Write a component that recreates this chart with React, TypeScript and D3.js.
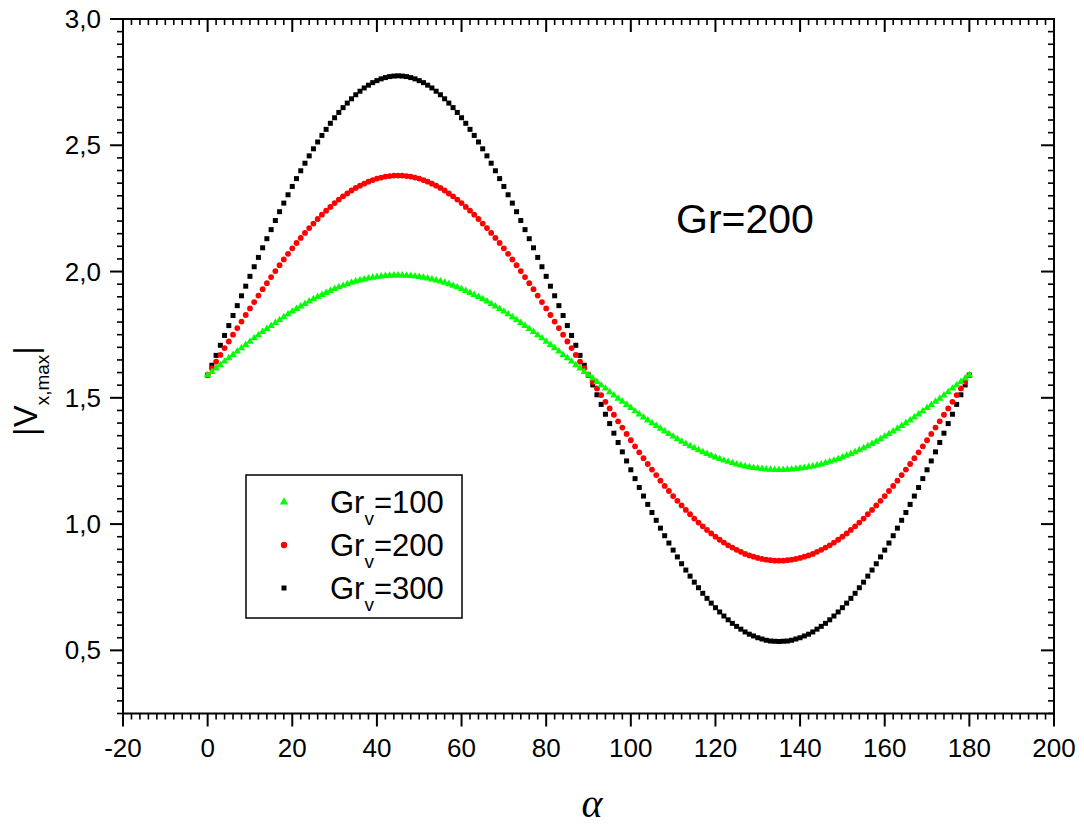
import React from 'react';
import * as d3 from 'd3';

const alpha: number[] = d3.range(0, 181, 1);

const grv100: number[] = [
1.590,1.603,1.617,1.630,1.644,1.657,1.670,1.684,1.697,1.710,
1.723,1.736,1.748,1.761,1.773,1.785,1.797,1.808,1.820,1.831,
1.842,1.852,1.862,1.872,1.882,1.891,1.900,1.908,1.916,1.924,
1.931,1.938,1.944,1.950,1.956,1.961,1.965,1.969,1.973,1.976,
1.979,1.981,1.983,1.984,1.985,1.985,
1.985,1.984,1.983,1.981,1.979,1.976,1.973,1.969,1.965,1.961,
1.956,1.950,1.944,1.938,1.931,1.924,1.916,1.908,1.900,1.891,
1.882,1.872,1.862,1.852,1.842,1.831,1.820,1.808,1.797,1.785,
1.773,1.761,1.748,1.736,1.723,1.710,1.697,1.684,1.670,1.657,
1.644,1.630,1.617,1.603,1.590,
1.577,1.563,1.550,1.537,1.523,1.510,1.497,1.485,1.472,1.460,
1.447,1.435,1.423,1.411,1.400,1.389,1.378,1.367,1.357,1.347,
1.337,1.327,1.318,1.309,1.301,1.293,1.285,1.278,1.271,1.264,
1.258,1.252,1.247,1.242,1.237,1.233,1.229,1.226,1.223,1.221,
1.219,1.217,1.216,1.215,1.215,
1.215,1.216,1.217,1.219,1.221,1.223,1.226,1.229,1.233,1.237,
1.242,1.247,1.252,1.258,1.264,1.271,1.278,1.285,1.293,1.301,
1.309,1.318,1.327,1.337,1.347,1.357,1.367,1.378,1.389,1.400,
1.411,1.423,1.435,1.447,1.460,1.472,1.485,1.497,1.510,1.523,
1.537,1.550,1.563,1.577,1.590
];

const grv200: number[] = [
1.590,1.617,1.643,1.670,1.697,1.723,1.750,1.776,1.802,1.828,
1.854,1.879,1.905,1.930,1.954,1.978,2.002,2.025,2.048,2.070,
2.092,2.113,2.133,2.153,2.172,2.190,2.208,2.225,2.241,2.256,
2.271,2.285,2.298,2.309,2.321,2.331,2.340,2.348,2.356,2.362,
2.368,2.372,2.376,2.378,2.380,2.380,
2.380,2.378,2.376,2.372,2.368,2.362,2.356,2.348,2.340,2.331,
2.321,2.309,2.298,2.285,2.271,2.256,2.241,2.225,2.208,2.190,
2.172,2.153,2.133,2.113,2.092,2.070,2.048,2.025,2.002,1.978,
1.954,1.930,1.905,1.879,1.854,1.828,1.802,1.776,1.750,1.723,
1.697,1.670,1.643,1.617,1.590,
1.563,1.537,1.511,1.484,1.458,1.433,1.407,1.382,1.357,1.332,
1.308,1.284,1.261,1.238,1.216,1.194,1.172,1.151,1.131,1.111,
1.092,1.074,1.056,1.039,1.022,1.006,0.991,0.977,0.963,0.950,
0.938,0.927,0.916,0.907,0.898,0.890,0.882,0.876,0.871,0.866,
0.862,0.859,0.857,0.855,0.855,
0.855,0.857,0.859,0.862,0.866,0.871,0.876,0.882,0.890,0.898,
0.907,0.916,0.927,0.938,0.950,0.963,0.977,0.991,1.006,1.022,
1.039,1.056,1.074,1.092,1.111,1.131,1.151,1.172,1.194,1.216,
1.238,1.261,1.284,1.308,1.332,1.357,1.382,1.407,1.433,1.458,
1.484,1.511,1.537,1.563,1.590
];

const grv300: number[] = [
1.590,1.629,1.668,1.708,1.747,1.786,1.826,1.865,1.904,1.942,
1.981,2.019,2.056,2.094,2.130,2.166,2.202,2.237,2.271,2.304,
2.337,2.368,2.399,2.429,2.458,2.486,2.513,2.539,2.563,2.587,
2.609,2.630,2.649,2.667,2.684,2.700,2.714,2.727,2.738,2.748,
2.756,2.763,2.768,2.772,2.774,2.775,
2.774,2.772,2.768,2.763,2.756,2.748,2.738,2.727,2.714,2.700,
2.684,2.667,2.649,2.630,2.609,2.587,2.563,2.539,2.513,2.486,
2.458,2.429,2.399,2.368,2.337,2.304,2.271,2.237,2.202,2.166,
2.130,2.094,2.056,2.019,1.981,1.942,1.904,1.865,1.826,1.786,
1.747,1.708,1.668,1.629,1.590,
1.551,1.512,1.474,1.435,1.398,1.360,1.323,1.286,1.250,1.215,
1.180,1.145,1.111,1.078,1.046,1.015,0.984,0.954,0.925,0.897,
0.870,0.843,0.818,0.794,0.770,0.748,0.726,0.706,0.687,0.669,
0.652,0.636,0.621,0.607,0.595,0.584,0.573,0.564,0.557,0.550,
0.545,0.540,0.537,0.536,0.535,
0.536,0.537,0.540,0.545,0.550,0.557,0.564,0.573,0.584,0.595,
0.607,0.621,0.636,0.652,0.669,0.687,0.706,0.726,0.748,0.770,
0.794,0.818,0.843,0.870,0.897,0.925,0.954,0.984,1.015,1.046,
1.078,1.111,1.145,1.180,1.215,1.250,1.286,1.323,1.360,1.398,
1.435,1.474,1.512,1.551,1.590
];

const seriesLabels: string[] = ['100', '200', '300'];
const annotation = 'Gr=200';

const W = 1084, H = 828;
const L = 123, R = 1054, T = 19, B = 713.5;
const FONT = '"Liberation Sans", Arial, sans-serif';

export default function App() {
  const x = d3.scaleLinear().domain([-20, 200]).range([L, R]);
  const y = d3.scaleLinear().domain([0.25, 3.0]).range([B, T]);

  const xMajor = x.ticks(11);
  const xMinor = x.ticks(110).filter(v => !xMajor.some(m => Math.abs(m - v) < 1e-9));
  const yMajor = y.ticks(6);
  const yMinor = y.ticks(55).filter(v => !yMajor.some(m => Math.abs(m - v) < 1e-9));
  const fmtY = (v: number) => d3.format('.1f')(v).replace('.', ',');

  const sq = d3.symbol().type(d3.symbolSquare).size(25)() as string;
  const tri = d3.symbol().type(d3.symbolTriangle).size(24)() as string;
  const triLeg = d3.symbol().type(d3.symbolTriangle).size(30)() as string;

  const MJ = 13, MN = 6;
  const sw = 2;

  const legendRows = [
    { label: seriesLabels[0], kind: 'tri', color: '#00ff00' },
    { label: seriesLabels[1], kind: 'circ', color: '#ff0000' },
    { label: seriesLabels[2], kind: 'sq', color: '#000000' },
  ];

  return (
    <svg width={W} height={H} style={{ position: 'absolute', left: 0, top: 0, display: 'block', background: '#fff' }}>
      <rect x={0} y={0} width={W} height={H} fill="#fff" />
      <g>
        {alpha.map((a, i) => (
          <path key={'b' + i} d={sq} transform={`translate(${x(a)},${y(grv300[i])})`} fill="#000" />
        ))}
        {alpha.map((a, i) => (
          <circle key={'r' + i} cx={x(a)} cy={y(grv200[i])} r={2.9} fill="#ff0000" />
        ))}
        {alpha.map((a, i) => (
          <path key={'g' + i} d={tri} transform={`translate(${x(a)},${y(grv100[i])})`} fill="#00ff00" />
        ))}
      </g>
      <rect x={L} y={T} width={R - L} height={B - T} fill="none" stroke="#000" strokeWidth={sw} />
      {xMajor.map(v => <line key={'xb' + v} x1={x(v)} x2={x(v)} y1={B} y2={B + MJ} stroke="#000" strokeWidth={sw} />)}
      {xMinor.map(v => <line key={'xbm' + v} x1={x(v)} x2={x(v)} y1={B} y2={B + MN} stroke="#000" strokeWidth={1.6} />)}
      {xMajor.map(v => <line key={'xt' + v} x1={x(v)} x2={x(v)} y1={T} y2={T + MJ} stroke="#000" strokeWidth={sw} />)}
      {xMinor.map(v => <line key={'xtm' + v} x1={x(v)} x2={x(v)} y1={T} y2={T + MN} stroke="#000" strokeWidth={1.6} />)}
      {yMajor.map(v => <line key={'yl' + v} x1={L - MJ} x2={L} y1={y(v)} y2={y(v)} stroke="#000" strokeWidth={sw} />)}
      {yMinor.map(v => <line key={'ylm' + v} x1={L - MN} x2={L} y1={y(v)} y2={y(v)} stroke="#000" strokeWidth={1.6} />)}
      {yMajor.map(v => <line key={'yr' + v} x1={R - MJ} x2={R} y1={y(v)} y2={y(v)} stroke="#000" strokeWidth={sw} />)}
      {yMinor.map(v => <line key={'yrm' + v} x1={R - MN} x2={R} y1={y(v)} y2={y(v)} stroke="#000" strokeWidth={1.6} />)}
      {xMajor.map(v => (
        <text key={'xl' + v} x={x(v)} y={757} textAnchor="middle" fontFamily={FONT} fontSize={26} fill="#000">{String(v)}</text>
      ))}
      {yMajor.map(v => (
        <text key={'ylb' + v} x={101} y={y(v) + 9} textAnchor="end" fontFamily={FONT} fontSize={26} fill="#000">{fmtY(v)}</text>
      ))}
      <text x={592} y={817} textAnchor="middle" fontFamily='"Liberation Serif", "Times New Roman", serif' fontStyle="italic" fontSize={40} fill="#000">α</text>
      <text transform="translate(37,391) rotate(-90)" textAnchor="middle" fontFamily={FONT} fontSize={33} fill="#000">
        <tspan>|V</tspan>
        <tspan dy={12} fontSize={19}>x,max</tspan>
        <tspan dy={-12}>|</tspan>
      </text>
      <text x={676} y={233} fontFamily={FONT} fontSize={41} fill="#000">{annotation}</text>
      <rect x={246} y={475} width={216} height={143} fill="#fff" stroke="#000" strokeWidth={1.5} />
      {legendRows.map((row, i) => {
        const cy = 502 + i * 43;
        return (
          <g key={'lg' + i}>
            {row.kind === 'tri' && <path d={triLeg} transform={`translate(284,${cy})`} fill={row.color} />}
            {row.kind === 'circ' && <circle cx={284} cy={cy} r={3.2} fill={row.color} />}
            {row.kind === 'sq' && <path d={sq} transform={`translate(284,${cy})`} fill={row.color} />}
            <text x={330} y={cy + 11} fontFamily={FONT} fontSize={31} fill="#000">
              <tspan>Gr</tspan>
              <tspan dy={12} fontSize={19}>v</tspan>
              <tspan dy={-12}>={row.label}</tspan>
            </text>
          </g>
        );
      })}
    </svg>
  );
}
